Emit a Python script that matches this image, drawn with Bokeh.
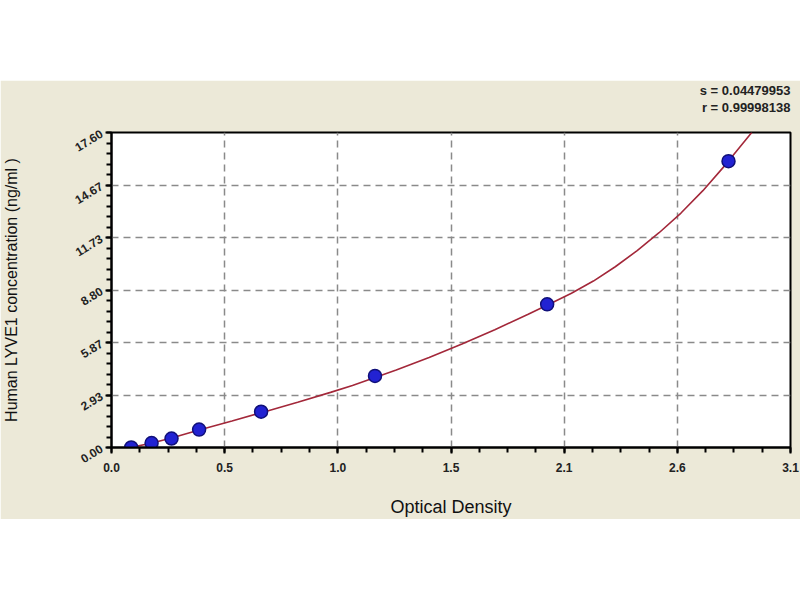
from bokeh.plotting import figure
from bokeh.models import Range1d, FixedTicker, Title, Spacer
from bokeh.layouts import column
from bokeh.embed import file_html
from bokeh.resources import INLINE

# Standards (optical density vs concentration)
od = [0.090, 0.183, 0.274, 0.400, 0.683, 1.203, 1.989, 2.817]
conc = [0.0, 0.25, 0.5, 1.0, 2.0, 4.0, 8.0, 16.0]

# Fitted curve
curve_od = [0.08, 0.18, 0.27, 0.40, 0.55, 0.70, 0.85, 1.00, 1.10, 1.20, 1.30,
            1.45, 1.60, 1.75, 1.90, 2.00, 2.10, 2.20, 2.30, 2.40, 2.50, 2.60,
            2.70, 2.80, 2.923]
curve_conc = [-0.02, 0.24, 0.52, 0.98, 1.48, 2.00, 2.53, 3.08, 3.47, 3.90, 4.33,
              5.03, 5.78, 6.58, 7.43, 8.02, 8.62, 9.30, 10.10, 11.00, 12.00, 13.10,
              14.35, 15.75, 17.6]

x_max = 3.1
y_max = 17.6
x_tick_labels = ["0.0", "0.5", "1.0", "1.5", "2.1", "2.6", "3.1"]
y_tick_labels = ["0.00", "2.93", "5.87", "8.80", "11.73", "14.67", "17.60"]
stats_lines = ["s = 0.04479953", "r = 0.99998138"]

BEIGE = "#ECE9D8"
FONT = "Liberation Sans"

p = figure(width=800, height=439, output_backend="svg", toolbar_location=None,
           title=None,
           x_range=Range1d(0, x_max), y_range=Range1d(0, y_max),
           min_border_left=108, min_border_right=10, min_border_top=51,
           min_border_bottom=71)
p.background_fill_color = "white"
p.border_fill_color = BEIGE
p.outline_line_color = "black"
p.outline_line_width = 2

n = len(x_tick_labels) - 1
xt = [x_max * i / n for i in range(n + 1)]
yt = [y_max * i / n for i in range(n + 1)]
xminor = [x_max * i / (n * 4) for i in range(n * 4 + 1)]
yminor = [y_max * i / (n * 5) for i in range(n * 5 + 1)]

p.xaxis.ticker = FixedTicker(ticks=xt, minor_ticks=xminor)
p.yaxis.ticker = FixedTicker(ticks=yt, minor_ticks=yminor)
p.xaxis.major_label_overrides = {t: s for t, s in zip(xt, x_tick_labels)}
p.yaxis.major_label_overrides = {t: s for t, s in zip(yt, y_tick_labels)}

for ax in (p.xaxis, p.yaxis):
    ax.axis_line_width = 2
    ax.axis_line_color = "black"
    ax.major_tick_line_width = 2
    ax.minor_tick_line_width = 2
    ax.minor_tick_line_color = "black"
    ax.major_tick_out = 6
    ax.major_tick_in = 0
    ax.minor_tick_out = 5
    ax.minor_tick_in = 0
    ax.major_label_text_font = FONT
    ax.major_label_text_font_style = "bold"
    ax.major_label_text_font_size = "12px"
    ax.major_label_text_color = "#222222"
    ax.axis_label_text_font = FONT
    ax.axis_label_text_font_style = "normal"
    ax.axis_label_text_font_size = "18px"
    ax.axis_label_text_color = "#111111"

p.xaxis.axis_label = "Optical Density"
p.xaxis.major_label_standoff = 9
p.xaxis.axis_label_standoff = 22
p.yaxis.axis_label = "Human LYVE1 concentration (ng/ml )"
p.yaxis.axis_label_text_font_size = "16px"
p.yaxis.major_label_orientation = 0.55
p.yaxis.major_label_standoff = 4
p.yaxis.axis_label_standoff = 48

for g in (p.xgrid, p.ygrid):
    g.grid_line_color = "#8a8a8a"
    g.grid_line_width = 1.5
    g.grid_line_dash = "7 5"
p.xgrid.ticker = FixedTicker(ticks=xt)
p.ygrid.ticker = FixedTicker(ticks=yt)

p.line(curve_od, curve_conc, line_color="#a3283a", line_width=1.6)
p.scatter(od, conc, size=13, fill_color="#2222d2", line_color="#10107a",
          line_width=1.5, marker="circle")

# blank spacer title nearest the frame, then the two stat lines
p.add_layout(Title(text=" ", text_font_size="12px", text_line_height=1.0,
                   standoff=1), "above")
for txt, so in zip(reversed(stats_lines), [1, 0]):
    p.add_layout(Title(text=txt, align="right", text_font=FONT,
                       text_font_style="bold", text_font_size="13px",
                       text_line_height=1.0, text_color="#222222",
                       standoff=so), "above")

layout = column(Spacer(height=80, width=800), p)
open("out.html", "w").write(file_html(layout, INLINE))
